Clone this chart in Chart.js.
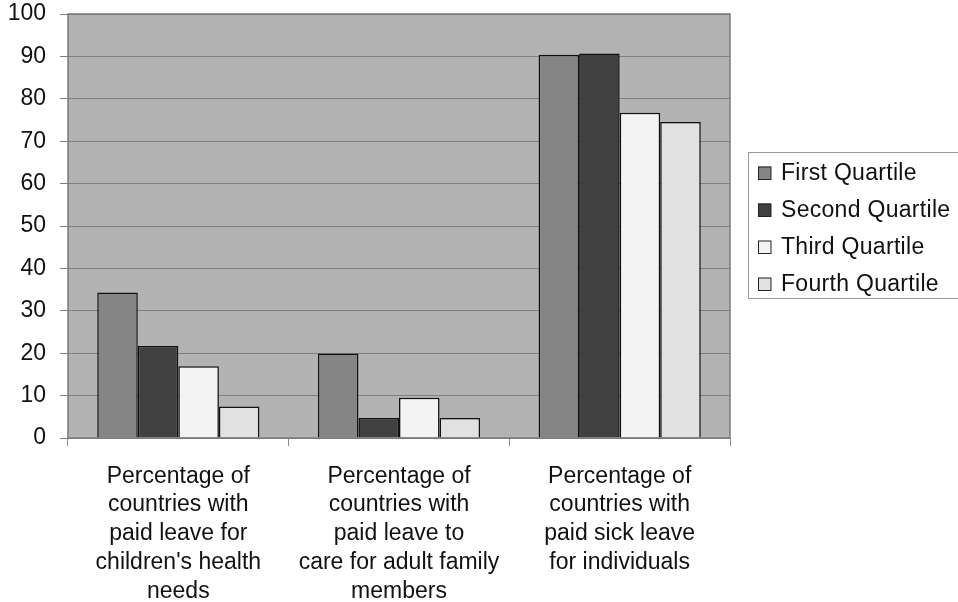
<!DOCTYPE html>
<html>
<head>
<meta charset="utf-8">
<script src="https://cdn.jsdelivr.net/npm/chart.js@4.4.1/dist/chart.umd.min.js"></script>
<style>
html,body{margin:0;padding:0;background:#fff;}
#wrap{width:958px;height:602px;position:relative;}
</style>
</head>
<body>
<div id="wrap"><canvas id="c" width="958" height="602"></canvas></div>
<script>
const categories = [
  ["Percentage of","countries with","paid leave for","children's health","needs"],
  ["Percentage of","countries with","paid leave to","care for adult family","members"],
  ["Percentage of","countries with","paid sick leave","for individuals"]
];
const seriesNames = ["First Quartile","Second Quartile","Third Quartile","Fourth Quartile"];
const firstQuartile  = [34.3, 19.9, 90.4];
const secondQuartile = [21.7, 4.7, 90.7];
const thirdQuartile  = [16.9, 9.5, 76.7];
const fourthQuartile = [7.4, 4.7, 74.5];
const yTicks = [0,10,20,30,40,50,60,70,80,90,100];

const colors = ["#858585","#404040","#f3f3f3","#e1e1e1"];
const FONT = "'Liberation Sans', Arial, Helvetica, sans-serif";

const plotBg = {
  id:'plotBg',
  beforeDraw(chart){
    const {ctx, chartArea:a} = chart;
    ctx.save();
    ctx.fillStyle = '#b3b3b3';
    ctx.fillRect(a.left, a.top, a.right-a.left, a.bottom-a.top);
    ctx.restore();
  },
  afterDraw(chart){
    const {ctx, chartArea:a} = chart;
    ctx.save();
    ctx.strokeStyle = '#7a7a7a';
    ctx.lineWidth = 1.5;
    ctx.strokeRect(a.left, a.top, a.right-a.left, a.bottom-a.top);
    // legend box
    const lx = 748.5, ly = 152.5, lw = 215, lh = 146;
    ctx.fillStyle = '#ffffff';
    ctx.fillRect(lx, ly, lw, lh);
    ctx.strokeStyle = '#9a9a9a';
    ctx.lineWidth = 1;
    ctx.strokeRect(lx, ly, lw, lh);
    ctx.font = "23px " + FONT;
    if ('letterSpacing' in ctx) ctx.letterSpacing = '0.3px';
    ctx.textBaseline = 'middle';
    ctx.textAlign = 'left';
    chart.data.datasets.forEach((ds, i) => {
      const cy = 173 + i*37;
      ctx.fillStyle = ds.backgroundColor;
      ctx.fillRect(758, cy-6.5, 13, 13);
      ctx.strokeStyle = '#222';
      ctx.lineWidth = 1;
      ctx.strokeRect(758.5, cy-6, 12.5, 12.5);
      ctx.fillStyle = '#111';
      ctx.fillText(ds.label, 781, cy+1);
    });
    ctx.restore();
  }
};

new Chart(document.getElementById('c'), {
  type: 'bar',
  data: {
    labels: categories,
    datasets: [
      {label: seriesNames[0], data: firstQuartile,  backgroundColor: colors[0]},
      {label: seriesNames[1], data: secondQuartile, backgroundColor: colors[1]},
      {label: seriesNames[2], data: thirdQuartile,  backgroundColor: colors[2]},
      {label: seriesNames[3], data: fourthQuartile, backgroundColor: colors[3]}
    ].map(d => Object.assign(d, {borderColor:'#111', borderWidth:1.5, categoryPercentage:0.735, barPercentage:1.0}))
  },
  options: {
    responsive: false,
    animation: false,
    layout: {padding: {top: 14, right: 228, left: 0, bottom: 0}},
    plugins: {legend: {display: false}, tooltip: {enabled: false}},
    scales: {
      x: {
        grid: {offset: true, drawOnChartArea: false, drawTicks: true, tickLength: 8, color: '#8a8a8a', lineWidth: 1},
        border: {display: false},
        ticks: {font: {family: FONT, size: 23, lineHeight: 1.25}, color: '#111', padding: 16, maxRotation: 0, autoSkip: false},
        afterFit(s){ s.height = 164; s.paddingLeft = 0; s.paddingRight = 0; }
      },
      y: {
        min: 0, max: 100,
        afterBuildTicks(s){ s.ticks = yTicks.map(v => ({value: v})); },
        grid: {color: '#808080', lineWidth: 1, tickLength: 8, drawTicks: true},
        border: {display: false},
        ticks: {font: {family: FONT, size: 23}, color: '#111', padding: 14},
        afterFit(s){ s.width = 68; s.paddingTop = 0; s.paddingBottom = 0; }
      }
    }
  },
  plugins: [plotBg]
});
</script>
</body>
</html>
